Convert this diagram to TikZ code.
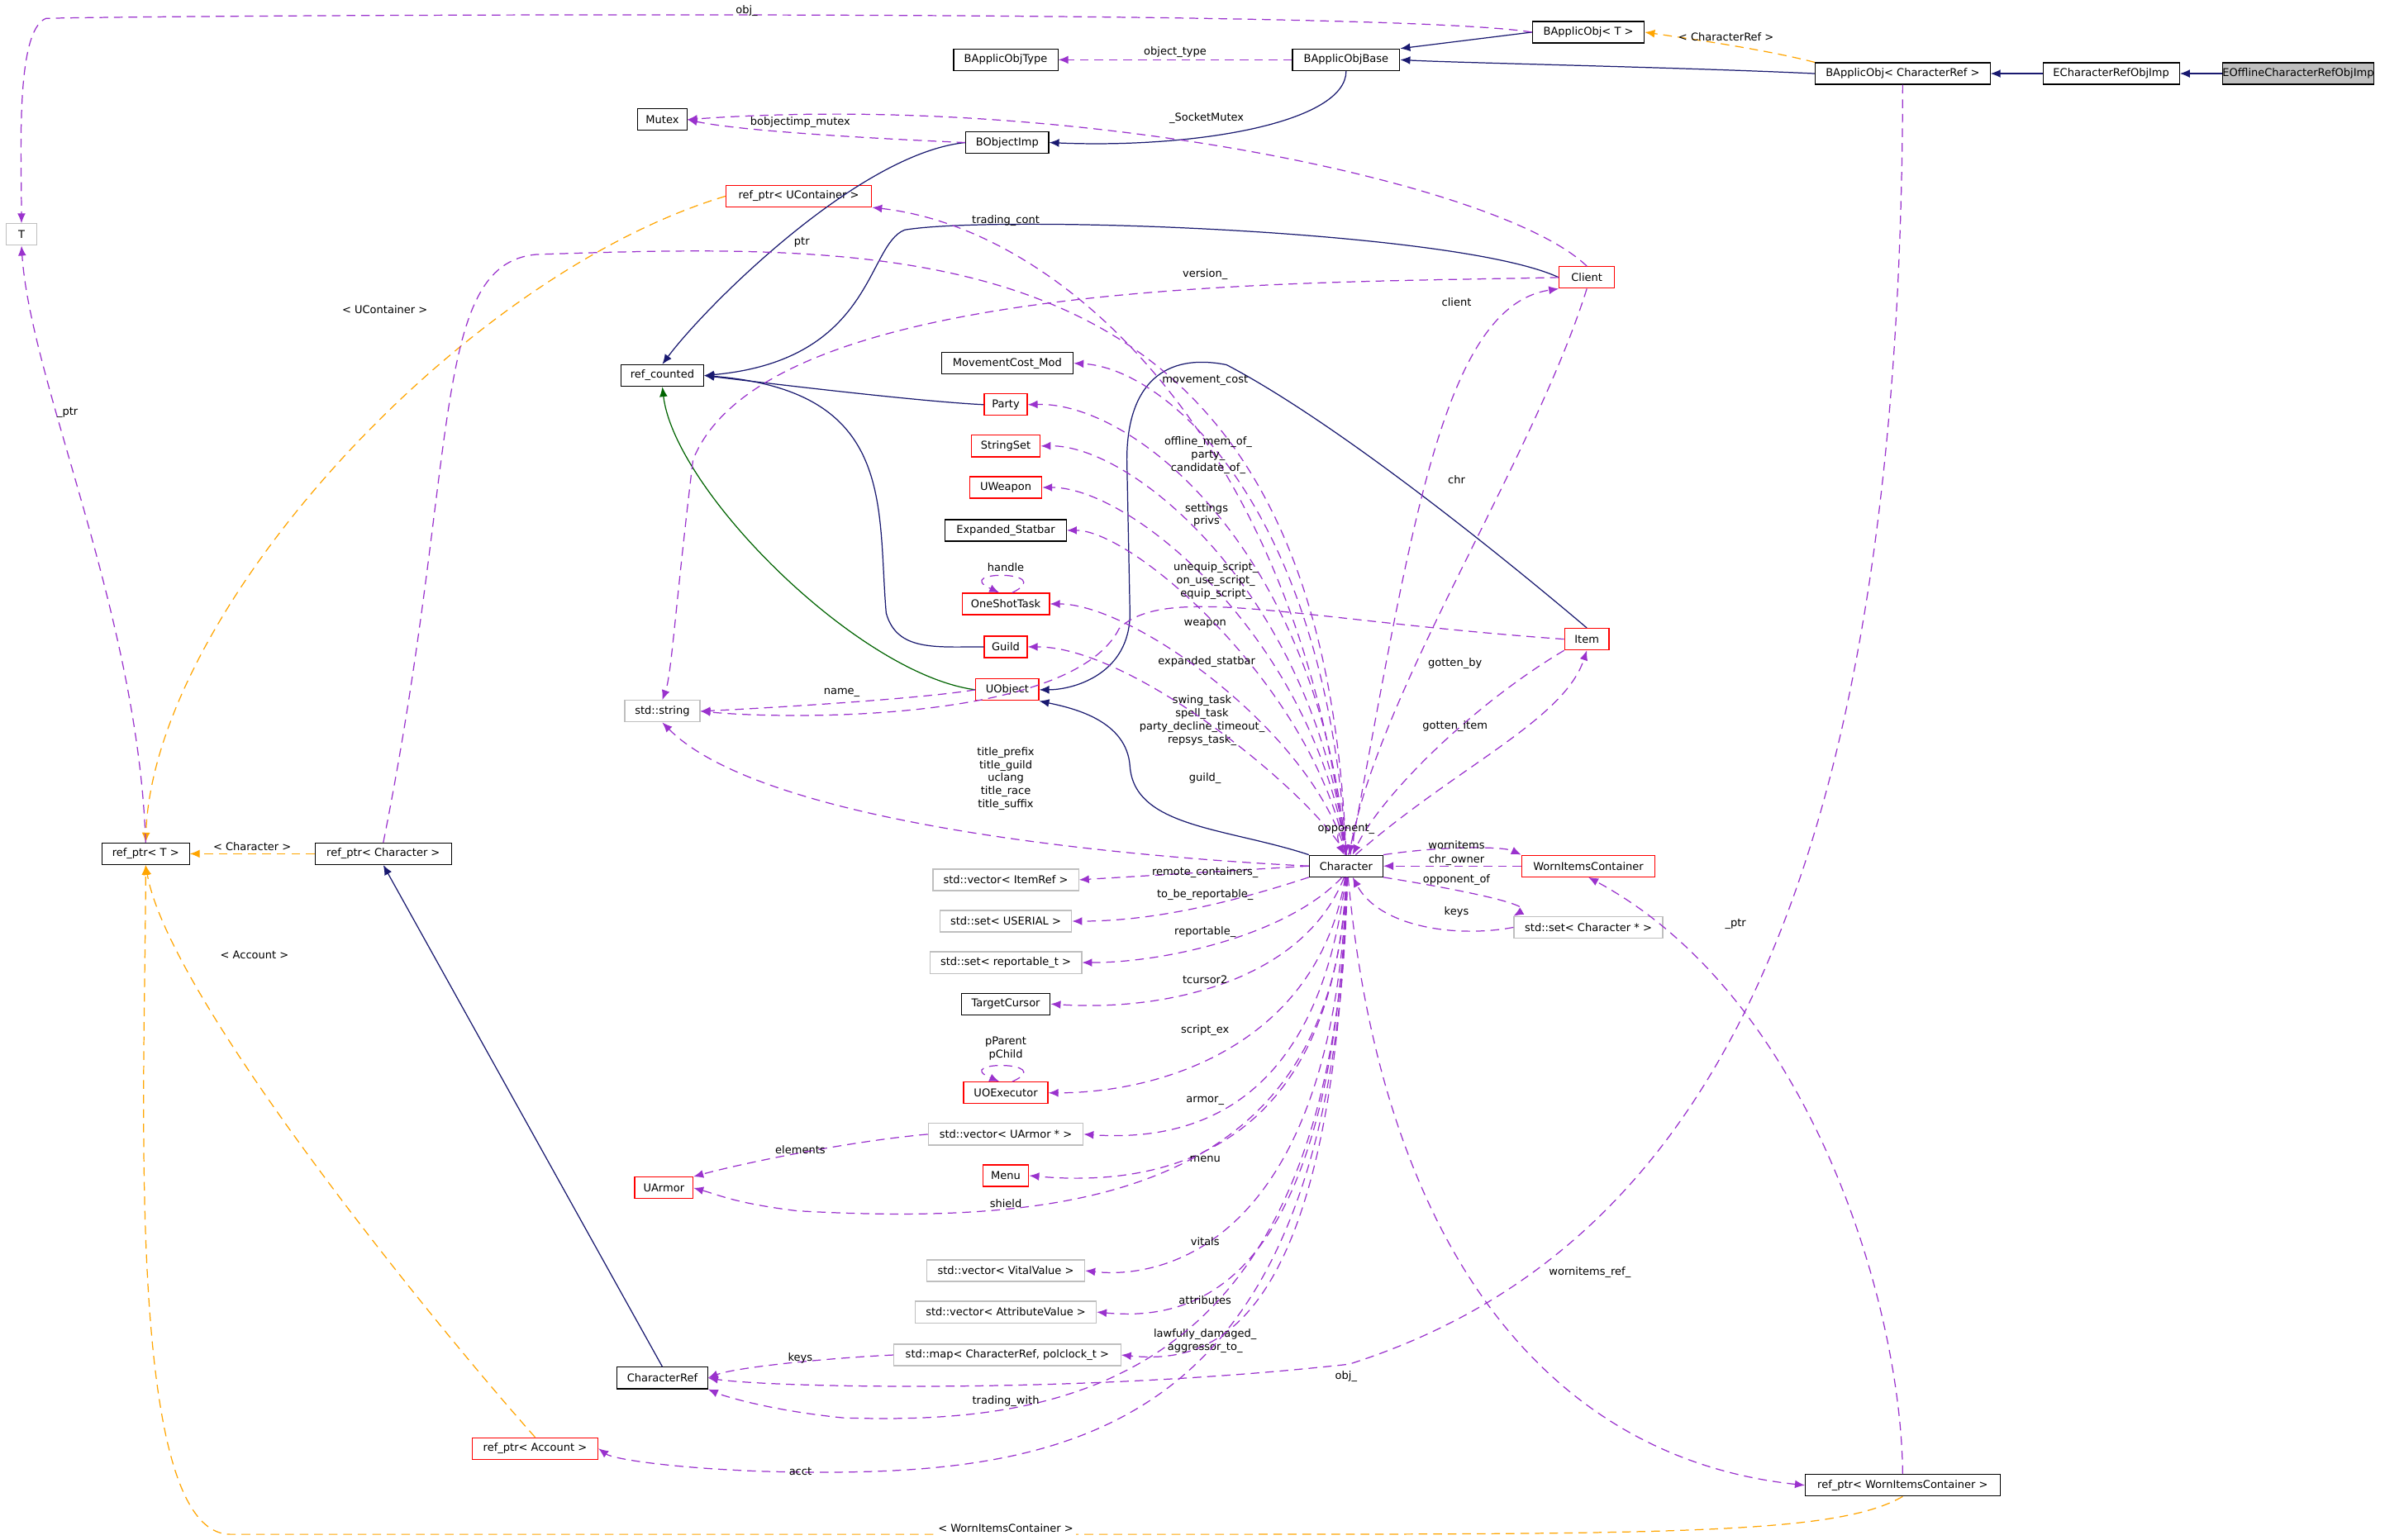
\documentclass[tikz,border=0pt]{standalone}
\usepackage{fontspec}
\setmainfont{DejaVu Sans}
\usetikzlibrary{arrows.meta}
\definecolor{navy}{RGB}{25,25,112}
\definecolor{pur}{RGB}{154,50,205}
\definecolor{org}{RGB}{255,165,0}
\definecolor{grn}{RGB}{0,100,0}
\definecolor{gbord}{RGB}{191,191,191}
\begin{document}
\begin{tikzpicture}[x=0.5275pt,y=-0.5275pt,
  every node/.style={font=\fontsize{3.7}{4.5}\selectfont,inner sep=0pt,align=center},
  box/.style={draw=black,line width=0.35pt,minimum height=7.4pt,fill=white},
  rbox/.style={box,draw=red},
  gbox/.style={box,draw=gbord},
  inh/.style={draw=navy,line width=0.35pt,-{Latex[length=3.4pt,width=2.8pt]}},
  tpl/.style={draw=org,line width=0.35pt,dash pattern=on 3pt off 2pt,-{Latex[length=3.4pt,width=2.8pt]}},
  use/.style={draw=pur,line width=0.35pt,dash pattern=on 3pt off 2pt,-{Latex[length=3.4pt,width=2.8pt]}},
  lbl/.style={}]
\fill[white] (0,0) rectangle (1568,1004.5);
\useasboundingbox (0,0) rectangle (1568,1004.5);
% nodes
\node[box,fill={rgb,255:red,191;green,191;blue,191},minimum width=96*0.5275pt] (eoff) at (1499,48) {EOfflineCharacterRefObjImp};
\node[box,minimum width=89*0.5275pt] (echr) at (1377,48) {ECharacterRefObjImp};
\node[box,minimum width=114*0.5275pt] (bacr) at (1241,48) {BApplicObj< CharacterRef >};
\node[box,minimum width=73*0.5275pt] (bat) at (1036,21) {BApplicObj< T >};
\node[box,minimum width=70*0.5275pt] (bab) at (878,39) {BApplicObjBase};
\node[box,minimum width=68*0.5275pt] (bot) at (656,39) {BApplicObjType};
\node[box,minimum width=32*0.5275pt] (mutex) at (432,78) {Mutex};
\node[box,minimum width=54*0.5275pt] (boi) at (657,93) {BObjectImp};
\node[gbox,minimum width=20*0.5275pt] (T) at (14,153) {T};
\node[rbox,minimum width=95*0.5275pt] (uc) at (521,128) {ref\_ptr< UContainer >};
\node[rbox,minimum width=36*0.5275pt] (client) at (1035,181) {Client};
\node[box,minimum width=54*0.5275pt] (rc) at (432,245) {ref\_counted};
\node[box,minimum width=86*0.5275pt] (mc) at (657,237) {MovementCost\_Mod};
\node[rbox,minimum width=28*0.5275pt] (party) at (656,264) {Party};
\node[rbox,minimum width=45*0.5275pt] (sset) at (656,291) {StringSet};
\node[rbox,minimum width=47*0.5275pt] (uw) at (656,318) {UWeapon};
\node[box,minimum width=79*0.5275pt] (es) at (656,346) {Expanded\_Statbar};
\node[rbox,minimum width=57*0.5275pt] (ost) at (656,394) {OneShotTask};
\node[rbox,minimum width=28*0.5275pt] (guild) at (656,422) {Guild};
\node[rbox,minimum width=41*0.5275pt] (uo) at (657,450) {UObject};
\node[gbox,minimum width=49*0.5275pt] (str) at (432,464) {std::string};
\node[rbox,minimum width=29*0.5275pt] (item) at (1035,417) {Item};
\node[box,minimum width=48*0.5275pt] (ch) at (878,565) {Character};
\node[rbox,minimum width=87*0.5275pt] (wic) at (1036,565) {WornItemsContainer};
\node[gbox,minimum width=97*0.5275pt] (setc) at (1036,605) {std::set< Character * >};
\node[box,minimum width=57*0.5275pt] (rpt) at (95,557) {ref\_ptr< T >};
\node[box,minimum width=89*0.5275pt] (rpc) at (250,557) {ref\_ptr< Character >};
\node[gbox,minimum width=95*0.5275pt] (vir) at (656,574) {std::vector< ItemRef >};
\node[gbox,minimum width=86*0.5275pt] (setu) at (656,601) {std::set< USERIAL >};
\node[gbox,minimum width=99*0.5275pt] (setr) at (656,628) {std::set< reportable\_t >};
\node[box,minimum width=58*0.5275pt] (tc) at (656,655) {TargetCursor};
\node[rbox,minimum width=55*0.5275pt] (uoe) at (656,713) {UOExecutor};
\node[gbox,minimum width=101*0.5275pt] (vua) at (656,740) {std::vector< UArmor * >};
\node[rbox,minimum width=38*0.5275pt] (ua) at (433,775) {UArmor};
\node[rbox,minimum width=30*0.5275pt] (menu) at (656,767) {Menu};
\node[gbox,minimum width=103*0.5275pt] (vvv) at (656,829) {std::vector< VitalValue >};
\node[gbox,minimum width=118*0.5275pt] (vav) at (656,856) {std::vector< AttributeValue >};
\node[gbox,minimum width=148*0.5275pt] (map) at (657,884) {std::map< CharacterRef, polclock\_t >};
\node[box,minimum width=59*0.5275pt] (cr) at (432,899) {CharacterRef};
\node[rbox,minimum width=82*0.5275pt] (rpa) at (349,945) {ref\_ptr< Account >};
\node[box,minimum width=127*0.5275pt] (rpw) at (1241,969) {ref\_ptr< WornItemsContainer >};
% inheritance
\draw[inh] (eoff.west) -- (echr.east);
\draw[inh] (echr.west) -- (bacr.east);
\draw[inh] (bacr.west) .. controls (1100,44) and (950,41) .. (bab.east);
\draw[inh] (bat.west) -- (bab.north east);
\draw[inh] (bab.south) .. controls (878,80) and (780,97) .. (boi.east);
\draw[inh] (boi.west) .. controls (560,100) and (460,200) .. (rc.north);
\draw[inh] (client.west) .. controls (950,150) and (650,140) .. (590,150) .. controls (565,160) and (570,235) .. (rc.east);
\draw[inh] (party.west) .. controls (600,262) and (500,250) .. (rc.east);
\draw[inh] (guild.west) .. controls (610,422) and (585,425) .. (578,400) .. controls (572,330) and (585,255) .. (rc.east);
\draw[inh,draw=grn] (uo.west) .. controls (560,440) and (440,320) .. (rc.south);
\draw[inh] (item.north) .. controls (1000,380) and (880,280) .. (800,238) .. controls (760,230) and (735,250) .. (735,300) -- (737,400) .. controls (737,440) and (700,450) .. (uo.east);
\draw[inh] (ch.north west) .. controls (800,540) and (740,540) .. (737,500) .. controls (735,470) and (700,462) .. (uo.south east);
\draw[inh] (cr.north) -- (rpc.south);
% templates
\draw[tpl] (bacr.north west) .. controls (1150,32) and (1100,25) .. (bat.east) node[pos=0.5,above=1pt,text=black]{< CharacterRef >};
\draw[tpl] (uc.west) .. controls (300,180) and (100,400) .. (rpt.north);
\node at (251,202) {< UContainer >};
\draw[tpl] (rpc.west) -- (rpt.east) node[midway,above=1pt]{< Character >};
\draw[tpl] (rpa.north) .. controls (280,860) and (110,650) .. (rpt.south);
\node at (166,623) {< Account >};
\draw[tpl] (rpw.south) .. controls (1200,1000) and (1100,1001) .. (800,1001) -- (150,1001) .. controls (80,1000) and (95,700) .. (rpt.south);
\node[fill=white,inner sep=1pt] at (656,997) {< WornItemsContainer >};
% usage
\draw[use] (bat.west) .. controls (900,5) and (100,10) .. (30,12) .. controls (10,20) and (14,100) .. (T.north);
\node at (487,7) {obj\_};
\draw[use] (bab.west) -- (bot.east) node[midway,above=0.5pt]{object\_type};
\draw[use] (boi.west) .. controls (560,90) and (480,85) .. (mutex.east);
\node at (522,80) {bobjectimp\_mutex};
\draw[use] (client.north) .. controls (980,120) and (700,60) .. (mutex.east);
\node at (787,77) {\_SocketMutex};
\draw[use] (rpt.north) .. controls (90,400) and (20,250) .. (T.south);
\node at (44,269) {\_ptr};
\draw[use] (ch.95) .. controls (850,300) and (700,150) .. (uc.south east);
\node at (656,144) {trading\_cont};
\draw[use] (client.west) .. controls (850,185) and (500,180) .. (452,300) .. controls (440,400) and (438,440) .. (str.north);
\node at (786,179) {version\_};
\draw[use] (rpc.north) .. controls (300,300) and (280,172) .. (350,166) .. controls (600,158) and (860,150) .. (ch.north);
\node at (523,158) {ptr};
\draw[use] (ch.70) .. controls (920,350) and (940,200) .. (client.south west);
\node at (950,197) {client};
\draw[use] (client.south) .. controls (1000,300) and (900,450) .. (ch.75);
\node at (950,313) {chr};
\draw[use] (ch.north) .. controls (865,330) and (760,240) .. (mc.east);
\node at (786,248) {movement\_cost};
\draw[use] (ch.north) .. controls (860,360) and (740,262) .. (party.east);
\node at (788,297) {offline\_mem\_of\_\\party\_\\candidate\_of\_};
\draw[use] (ch.north) .. controls (858,390) and (740,290) .. (sset.east);
\node at (787,336) {settings\\privs};
\draw[use] (ch.north) .. controls (858,420) and (740,318) .. (uw.east);
\node at (786,407) {weapon};
\draw[use] (ch.north) .. controls (858,450) and (740,346) .. (es.east);
\node at (787,432) {expanded\_statbar};
\draw[use] (item.west) .. controls (850,405) and (760,380) .. (730,410) .. controls (700,470) and (520,470) .. (str.east);
\node at (793,379) {unequip\_script\_\\on\_use\_script\_\\equip\_script\_};
\draw[use] (ch.north) .. controls (858,480) and (740,394) .. (ost.east);
\node at (784,470) {swing\_task\\spell\_task\\party\_decline\_timeout\_\\repsys\_task\_};
\draw[use] (ch.north) .. controls (858,520) and (740,422) .. (guild.east);
\node at (786,508) {guild\_};
\draw[use] (item.south west) .. controls (960,460) and (900,520) .. (ch.60);
\node at (949,433) {gotten\_by};
\draw[use] (ch.50) .. controls (950,500) and (1020,470) .. (item.south);
\node at (949,474) {gotten\_item};
\draw[use] (uo.west) .. controls (600,456) and (500,462) .. (str.east);
\node at (549,452) {name\_};
\draw[use] (ch.west) .. controls (750,560) and (500,540) .. (str.south);
\node at (656,508) {title\_prefix\\title\_guild\\uclang\\title\_race\\title\_suffix};
\draw[use] (ost.60) .. controls (690,372) and (620,372) .. (ost.120);
\node at (656,370) {handle};
\draw[use] (uoe.60) .. controls (690,692) and (620,692) .. (uoe.120);
\node at (656,684) {pParent\\pChild};
\draw[use] (ch.80) .. controls (892,535) and (866,535) .. (ch.100);
\node at (878,541) {opponent\_};
\draw[use] (ch.north east) .. controls (940,552) and (980,552) .. (wic.north west);
\node at (950,551) {wornitems};
\draw[use] (wic.west) -- (ch.east);
\node at (950,561) {chr\_owner};
\draw[use] (ch.south east) .. controls (950,580) and (1000,590) .. (setc.north west);
\node at (950,574) {opponent\_of};
\draw[use] (setc.west) .. controls (950,612) and (900,605) .. (ch.-60);
\node at (950,595) {keys};
\draw[use] (ch.west) -- (vir.east);
\node at (786,569) {remote\_containers\_};
\draw[use] (ch.south west) .. controls (800,590) and (750,601) .. (setu.east);
\node at (786,584) {to\_be\_reportable\_};
\draw[use] (ch.-110) .. controls (840,610) and (760,628) .. (setr.east);
\node at (786,608) {reportable\_};
\draw[use] (ch.-100) .. controls (850,640) and (760,660) .. (tc.east);
\node at (786,639) {tcursor2};
\draw[use] (ch.-95) .. controls (860,680) and (760,713) .. (uoe.east);
\node at (786,672) {script\_ex};
\draw[use] (ch.-92) .. controls (860,720) and (780,745) .. (vua.east);
\node at (786,718) {armor\_};
\draw[use] (ch.-90) .. controls (870,750) and (760,775) .. (menu.east);
\node at (786,756) {menu};
\draw[use] (ch.-88) .. controls (870,780) and (700,800) .. (520,790) .. controls (480,785) and (470,780) .. (ua.east);
\node at (656,785) {shield};
\draw[use] (vua.west) .. controls (550,745) and (480,760) .. (ua.north east);
\node at (522,750) {elements};
\draw[use] (ch.-87) .. controls (870,810) and (760,835) .. (vvv.east);
\node at (786,810) {vitals};
\draw[use] (ch.-86) .. controls (870,840) and (780,862) .. (vav.east);
\node at (786,848) {attributes};
\draw[use] (ch.-85) .. controls (870,870) and (790,890) .. (map.east);
\node at (786,875) {lawfully\_damaged\_\\aggressor\_to\_};
\draw[use] (map.west) .. controls (540,886) and (480,892) .. (cr.east);
\node at (522,886) {keys};
\draw[use] (ch.-84) .. controls (870,900) and (700,930) .. (550,925) .. controls (500,920) and (470,910) .. (cr.south east);
\node at (656,914) {trading\_with};
\draw[use] (ch.-83) .. controls (870,940) and (700,965) .. (500,960) .. controls (440,958) and (400,952) .. (rpa.east);
\node at (522,960) {acct};
\draw[use] (ch.-80) .. controls (900,800) and (1000,950) .. (rpw.west);
\node at (1037,830) {wornitems\_ref\_};
\draw[use] (bacr.south) .. controls (1240,600) and (1100,820) .. (880,890) .. controls (700,910) and (500,905) .. (cr.east);
\node at (878,898) {obj\_};
\draw[use] (rpw.north) .. controls (1240,850) and (1180,650) .. (wic.south);
\node at (1132,603) {\_ptr};
\end{tikzpicture}
\end{document}
